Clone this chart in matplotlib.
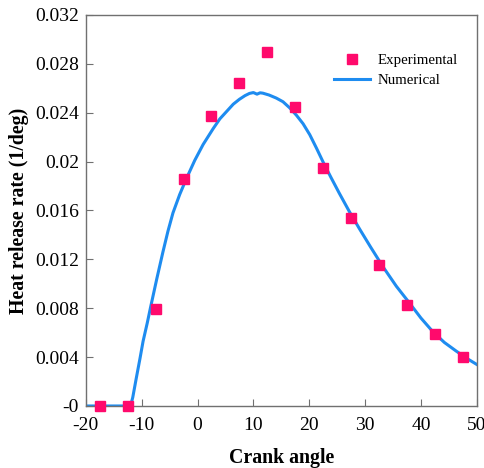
import matplotlib
matplotlib.use('Agg')
import matplotlib.pyplot as plt

plt.rcParams['font.family'] = ['Liberation Serif', 'DejaVu Serif']
plt.rcParams['axes.unicode_minus'] = False

# experimental points
exp_x = [-17.5, -12.5, -7.5, -2.5, 2.5, 7.5, 12.5, 17.5, 22.5, 27.5, 32.5, 37.5, 42.5, 47.5]
exp_y = [0.0, 0.0, 0.0079, 0.0186, 0.0237, 0.0264, 0.0290, 0.0245,
         0.0195, 0.0154, 0.0115, 0.0083, 0.0059, 0.0040]

# numerical curve
num_x = [-20, -12, -11.6, -11.0, -10.3, -9.75, -9.0, -8.4, -7.3, -6.2, -5.3, -4.4,
         -3.2, -2.0, -0.5, 1.0, 2.8, 4.0, 5.2, 6.4, 7.5, 8.5, 9.3, 10.0, 10.65,
         11.2, 11.7, 12.8, 14.1, 15.3, 16.5, 17.7, 18.9, 20.1, 21.3, 22.45, 23.9,
         25.4, 27.2, 29.0, 31.0, 33.2, 35.6, 38.0, 40.0, 42.1, 44.2, 46.3, 48.2, 50]
num_y = [0.0, 0.0, 0.0007, 0.0022, 0.0039, 0.0053, 0.0068, 0.0081, 0.0104, 0.0126,
         0.0143, 0.0158, 0.0173, 0.0186, 0.0201, 0.0214, 0.0227, 0.0235, 0.0241,
         0.0247, 0.0251, 0.0254, 0.02558, 0.02565, 0.02552, 0.02563, 0.0256,
         0.02545, 0.0252, 0.0249, 0.0244, 0.0238, 0.0231, 0.0222, 0.0211, 0.0200,
         0.0187, 0.0174, 0.0159, 0.0145, 0.0130, 0.0114, 0.0098, 0.0084, 0.0072,
         0.0061, 0.0052, 0.0045, 0.0039, 0.0034]

x_ticks = [-20, -10, 0, 10, 20, 30, 40, 50]
y_ticks = [0, 0.004, 0.008, 0.012, 0.016, 0.02, 0.024, 0.028, 0.032]
y_labels = ['-0', '0.004', '0.008', '0.012', '0.016', '0.02', '0.024', '0.028', '0.032']

fig = plt.figure(figsize=(4.85, 4.68), dpi=100)
ax = fig.add_axes([0.177, 0.1325, 0.806, 0.8355])

ax.plot(exp_x, exp_y, 's', color='#FF0A6C', markersize=7.5, label='Experimental',
        clip_on=False, zorder=3)
ax.plot(num_x, num_y, '-', color='#1E8CF0', linewidth=2.2, label='Numerical', zorder=2)

ax.set_xlim(-20, 50)
ax.set_ylim(0, 0.032)
ax.set_xticks(x_ticks)
ax.set_yticks(y_ticks)
ax.set_yticklabels(y_labels)
ax.tick_params(direction='in', length=5, width=0.8, color='#707070', labelsize=14)
ax.tick_params(axis='x', pad=8)
ax.tick_params(axis='y', pad=5)

for s in ax.spines.values():
    s.set_color('#707070')
    s.set_linewidth(1.0)

ax.set_xlabel('Crank angle', fontsize=14.3, fontweight='bold', labelpad=10)
ax.set_ylabel('Heat release rate (1/deg)', fontsize=14.3, fontweight='bold', labelpad=4)

ax.legend(loc='upper right', bbox_to_anchor=(0.985, 0.935), frameon=False,
          fontsize=10.7, numpoints=1, handlelength=2.4, handletextpad=0.5,
          labelspacing=0.45)

fig.savefig('out.png', dpi=100)
